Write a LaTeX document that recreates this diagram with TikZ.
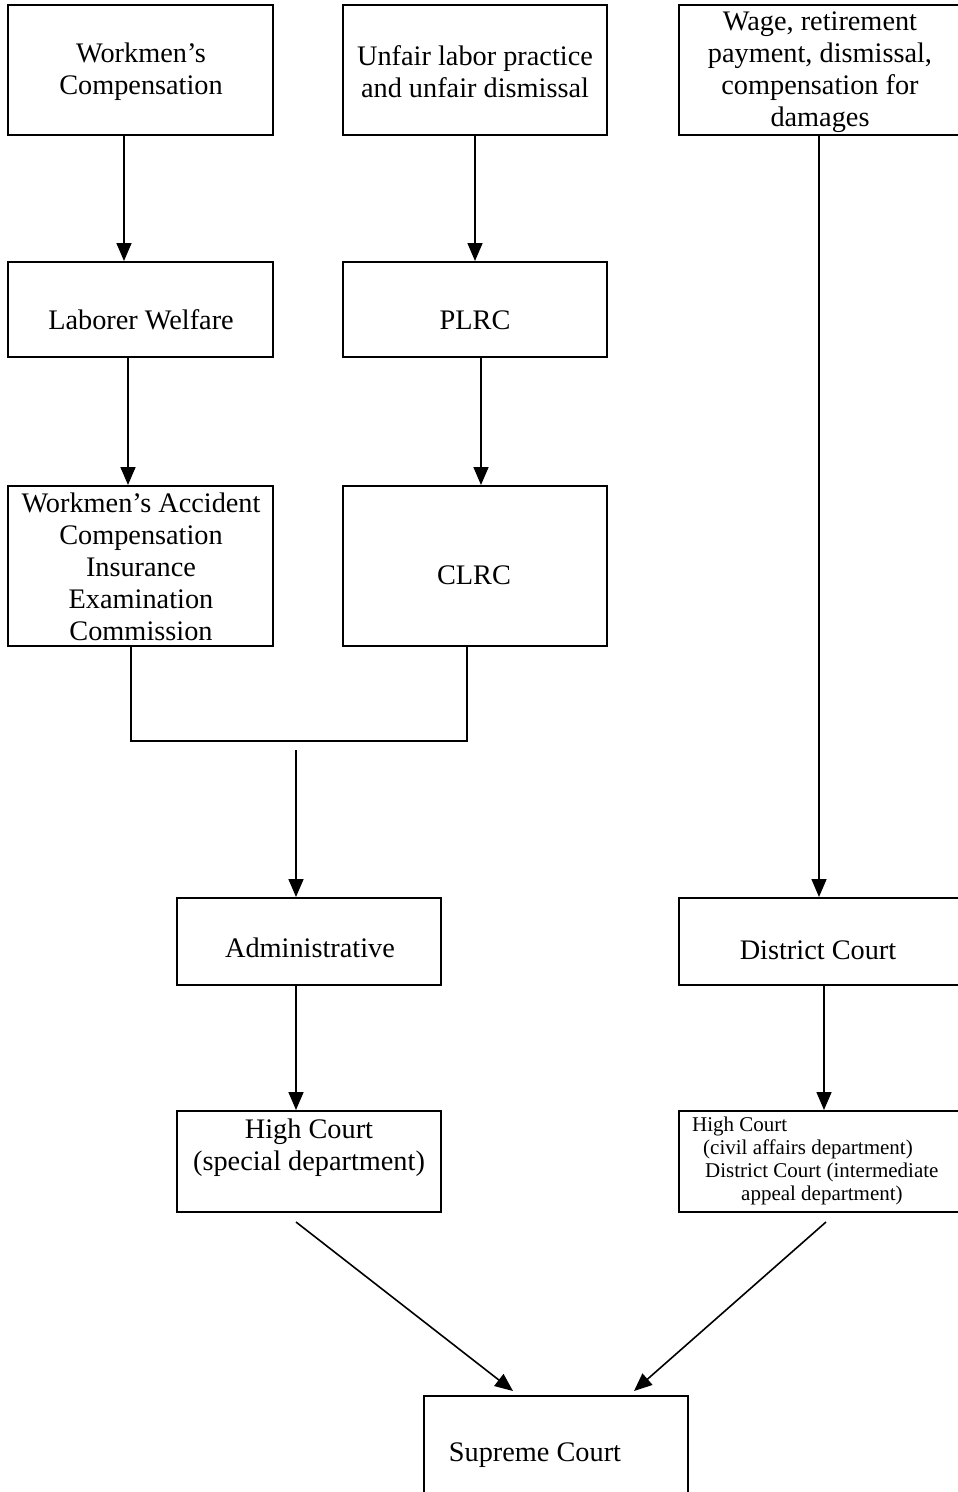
\documentclass[tikz,border=0pt]{standalone}
\usepackage{fontspec}
\setmainfont{Liberation Serif}
\usetikzlibrary{arrows.meta,calc}
\begin{document}
\begin{tikzpicture}[x=1pt,y=-1pt,
  box/.style={draw,line width=2pt,inner sep=0pt},
  txt/.style={font=\fontsize{28.3}{32}\selectfont,align=center,inner sep=0pt},
  smalltxt/.style={font=\fontsize{21}{23}\selectfont,align=left,inner sep=0pt},
  arr/.style={line width=1.6pt,-{Triangle[length=18pt,width=15pt]}},
  ln/.style={line width=1.6pt}]
\useasboundingbox (0,0) rectangle (958,1492);
% boxes
\node[box,minimum width=265,minimum height=130] (wc) at (140.5,70) {};
\node[box,minimum width=264,minimum height=130] (ul) at (475,70) {};
\node[box,minimum width=283,minimum height=130] (wg) at (820.5,70) {};
\node[box,minimum width=265,minimum height=95] (lw) at (140.5,309.5) {};
\node[box,minimum width=264,minimum height=95] (pl) at (475,309.5) {};
\node[box,minimum width=265,minimum height=160] (wa) at (140.5,566) {};
\node[box,minimum width=264,minimum height=160] (cl) at (475,566) {};
\node[box,minimum width=264,minimum height=87] (ad) at (309,941.5) {};
\node[box,minimum width=283,minimum height=87] (dc) at (820.5,941.5) {};
\node[box,minimum width=264,minimum height=101] (hc) at (309,1161.5) {};
\node[box,minimum width=283,minimum height=101] (hr) at (820.5,1161.5) {};
\node[box,minimum width=264,minimum height=134] (sc) at (556,1463) {};
% texts
\node[txt] (twc) at (141,72) {Workmen’s\\Compensation};
\node[txt] (tul) at (475,72) {Unfair labor practice\\and unfair dismissal};
\node[txt] (twg) at (820,72) {Wage, retirement\\payment, dismissal,\\compensation for\\damages};
\node[txt] (tlw) at (141,320) {Laborer Welfare};
\node[txt] (tpl) at (475,320) {PLRC};
\node[txt] (twa) at (141,567) {Workmen’s Accident\\Compensation\\Insurance\\Examination\\Commission};
\node[txt] (tcl) at (474,575) {CLRC};
\node[txt] (tad) at (310,948) {Administrative};
\node[txt] (tdc) at (818,950) {District Court};
\node[txt] (thc) at (309,1148) {High Court\\(special department)};
\node[smalltxt,anchor=west] (thr) at (692,1161) {High Court\\\hspace*{11pt}(civil affairs department)\\\hspace*{13pt}District Court (intermediate\\\hspace*{49pt}appeal department)};
\node[txt] (tsc) at (535,1455) {Supreme Court};
% connectors
\draw[arr] ([xshift=-16.5pt]wc.south) -- ([xshift=-16.5pt]lw.north);
\draw[arr] (ul.south) -- (pl.north);
\draw[arr] ([xshift=-1.5pt]wg.south) -- ([xshift=-1.5pt]dc.north);
\draw[arr] ([xshift=-12.5pt]lw.south) -- ([xshift=-12.5pt]wa.north);
\draw[arr] ([xshift=6pt]pl.south) -- ([xshift=6pt]cl.north);
\coordinate (jl) at (131,741);
\coordinate (jr) at (467,741);
\coordinate (js) at (296,750);
\draw[ln] (wa.south -| jl) -- (jl) -- (jr) -- (cl.south -| jr);
\draw[arr] (js) -- (ad.north -| js);
\draw[arr] ([xshift=-13pt]ad.south) -- ([xshift=-13pt]hc.north);
\draw[arr] ([xshift=3.5pt]dc.south) -- ([xshift=3.5pt]hr.north);
\coordinate (d1) at (296,1222);
\coordinate (d2) at (826,1222);
\draw[arr] (d1) -- ($(sc.north)+(-43,-4)$);
\draw[arr] (d2) -- ($(sc.north)+(78,-4)$);
\end{tikzpicture}
\end{document}
